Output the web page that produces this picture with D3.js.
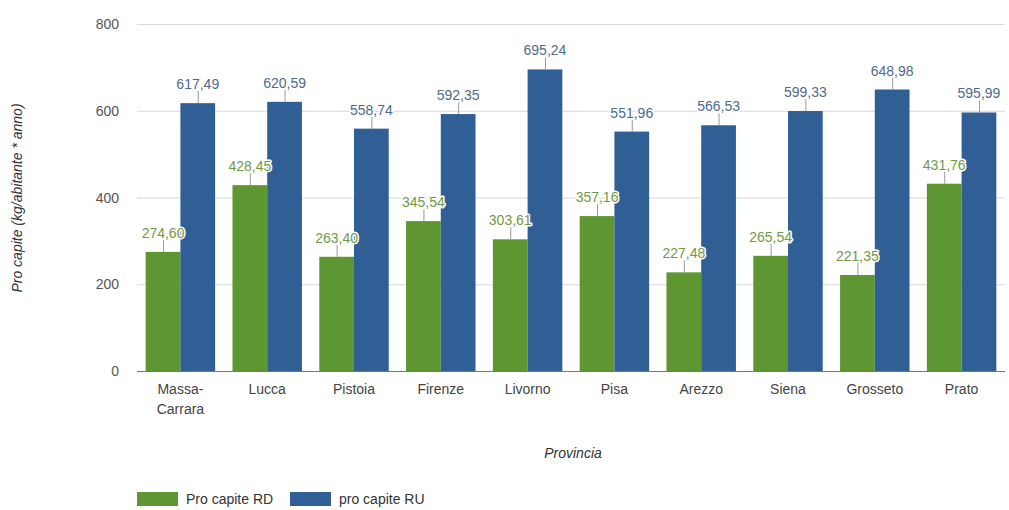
<!DOCTYPE html>
<html><head><meta charset="utf-8">
<script src="https://cdn.jsdelivr.net/npm/d3@7"></script>
<style>body{margin:0;background:#fff;}svg{display:block;font-family:Arial,"Liberation Sans",sans-serif;}</style>
</head><body><svg id="c" width="1009" height="510"></svg>
<script>
const categories = ["Massa-Carrara","Lucca","Pistoia","Firenze","Livorno","Pisa","Arezzo","Siena","Grosseto","Prato"];
const seriesNames = ["Pro capite RD","pro capite RU"];
const valuesRD = [274.60,428.45,263.40,345.54,303.61,357.16,227.48,265.54,221.35,431.76];
const valuesRU = [617.49,620.59,558.74,592.35,695.24,551.96,566.53,599.33,648.98,595.99];
const yTicks = [0,200,400,600,800];
const colors = ["#5e9632","#2f5f94"];
const labelColors = ["#6f9a45","#4d6b8c"];

(function(){
const svg = d3.select("#c");
const mLeft = 137, mRight = 1005, mTop = 24, mBottom = 371;
const x = d3.scaleBand().domain(categories).range([mLeft, mRight]).paddingInner(0.2).paddingOuter(0.1);
const x1 = d3.scaleBand().domain([0,1]).range([0, x.bandwidth()]);
const y = d3.scaleLinear().domain([0,800]).range([mBottom, mTop]);

svg.append("g").selectAll("line").data(yTicks).join("line")
  .attr("x1", mLeft).attr("x2", mRight).attr("y1", d=>y(d)+0.5).attr("y2", d=>y(d)+0.5)
  .attr("stroke", d=> d===0 ? "#777" : "#d8d8d8").attr("stroke-width",1);
svg.append("g").selectAll("text").data(yTicks).join("text")
  .attr("x", 119).attr("y", d=>y(d)+5).attr("text-anchor","end")
  .attr("font-size",14).attr("fill","#555").text(d=>d);

const data = [valuesRD, valuesRU];
data.forEach((vals, s) => {
  const g = svg.append("g");
  g.selectAll("rect").data(vals).join("rect")
    .attr("x",(d,i)=>x(categories[i])+x1(s)).attr("width",x1.bandwidth())
    .attr("y",d=>y(d)).attr("height",d=>y(0)-y(d)).attr("fill",colors[s]);
});
data.forEach((vals, s) => {
  const g = svg.append("g");
  g.selectAll("line").data(vals).join("line")
    .attr("x1",(d,i)=>x(categories[i])+x1(s)+x1.bandwidth()/2+0.5)
    .attr("x2",(d,i)=>x(categories[i])+x1(s)+x1.bandwidth()/2+0.5)
    .attr("y1",d=>y(d)).attr("y2",d=>y(d)-12).attr("stroke","#999");
  g.selectAll("text").data(vals).join("text")
    .attr("x",(d,i)=>x(categories[i])+x1(s)+x1.bandwidth()/2)
    .attr("y",d=>y(d)-14).attr("text-anchor","middle")
    .attr("font-size",14).attr("fill",labelColors[s])
    .attr("stroke","#fff").attr("stroke-width",3).attr("paint-order","stroke").attr("stroke-linejoin","round")
    .text(d=>d.toFixed(2).replace(".",","));
});

const xl = svg.append("g");
categories.forEach(c => {
  const parts = c.includes("-") ? [c.split("-")[0]+"-", c.split("-")[1]] : [c];
  const t = xl.append("text").attr("x", x(c)+x.bandwidth()/2).attr("y", 394)
    .attr("text-anchor","middle").attr("font-size",14).attr("fill","#444");
  parts.forEach((p,i)=> t.append("tspan").attr("x", x(c)+x.bandwidth()/2).attr("dy", i?20:0).text(p));
});

svg.append("text").attr("x",573).attr("y",458).attr("text-anchor","middle")
  .attr("font-size",14).attr("font-style","italic").attr("fill","#333").text("Provincia");
svg.append("text").attr("transform","translate(22,198) rotate(-90)").attr("text-anchor","middle")
  .attr("font-size",14).attr("font-style","italic").attr("fill","#333").text("Pro capite (kg/abitante * anno)");

const lg = svg.append("g");
const lx = [137, 290];
seriesNames.forEach((n,i)=>{
  lg.append("rect").attr("x",lx[i]).attr("y",492).attr("width",41).attr("height",14).attr("fill",colors[i]);
  lg.append("text").attr("x",lx[i]+49).attr("y",504).attr("font-size",14).attr("fill","#333").text(n);
});
})();
</script></body></html>
